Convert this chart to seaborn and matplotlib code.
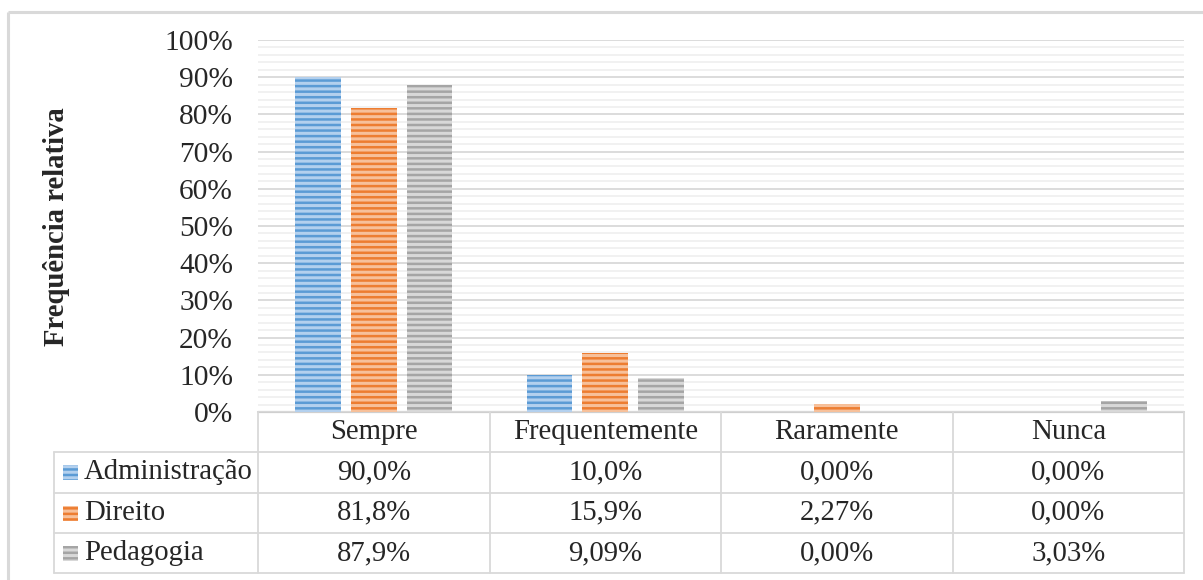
import matplotlib
matplotlib.use("Agg")
import numpy as np
import pandas as pd
import matplotlib.pyplot as plt
import seaborn as sns
from matplotlib.patches import Rectangle

# --- DATA ---
categorias = ["Sempre", "Frequentemente", "Raramente", "Nunca"]
cursos = ["Administração", "Direito", "Pedagogia"]
administracao = [90.0, 10.0, 0.0, 0.0]
direito = [81.8, 15.9, 2.27, 0.0]
pedagogia = [87.9, 9.09, 0.0, 3.03]
y_ticks = list(range(0, 101, 10))

cores = ["#5B9BD5", "#ED7D31", "#A5A5A5"]
cores_claras = ["#B3D0EE", "#F7C09A", "#D8D8D8"]

df = pd.DataFrame({
    "Resposta": categorias * 3,
    "Curso": np.repeat(cursos, len(categorias)),
    "Valor": administracao + direito + pedagogia,
})

# Style
sns.set_theme(style="white")
plt.rcParams["font.family"] = ["Liberation Serif", "DejaVu Serif"]
plt.rcParams["hatch.linewidth"] = 1.8
FS = 20.7


def fmt(v):
    s = f"{v:.1f}" if v >= 10 else f"{v:.2f}"
    return s.replace(".", ",") + "%"


W, H = 1203, 580
fig = plt.figure(figsize=(W / 100, H / 100), dpi=100)

# overlay axes in pixel coords for the data table and frame
tab = fig.add_axes([0, 0, 1, 1])
tab.set_xlim(0, W)
tab.set_ylim(H, 0)
tab.axis("off")
tab.patch.set_visible(False)

# --- BAR CHART ---
left, right, top, bottom = 258, 1184, 40, 412
ax = fig.add_axes([left / W, (H - bottom) / H, (right - left) / W, (bottom - top) / H])
sns.barplot(data=df, x="Resposta", y="Valor", hue="Curso", palette=cores,
            width=0.72, gap=0.18, errorbar=None, legend=False, ax=ax)

for cont, c, cl in zip(ax.containers, cores, cores_claras):
    for bar in cont:
        bar.set_facecolor(cl)
        bar.set_edgecolor(c)
        bar.set_hatch("---")
        bar.set_linewidth(0)

ax.set_ylim(0, 100)
ax.set_xlim(-0.5, len(categorias) - 0.5)
ax.set_yticks(y_ticks)
ax.set_yticks(range(0, 101, 2), minor=True)
ax.set_yticklabels([f"{t}%" for t in y_ticks])
ax.tick_params(axis="y", which="both", length=0, pad=18, labelsize=21.2)
ax.set_xticks([])
ax.set_xlabel("")
ax.set_ylabel("Frequência relativa", fontsize=FS, fontweight="bold")
ax.yaxis.set_label_coords((70 - left) / (right - left), (bottom - 227) / (bottom - top))
ax.grid(which="major", axis="y", color="#D9D9D9", lw=1.3)
ax.grid(which="minor", axis="y", color="#F0F0F0", lw=1.3)
ax.set_axisbelow(True)
for s in ax.spines.values():
    s.set_visible(False)
ax.patch.set_visible(False)

# --- OUTER FRAME ---
tab.plot([8, 8], [12, H], color="#D9D9D9", lw=2.2, solid_capstyle="butt")
tab.plot([8, W], [12, 12], color="#D9D9D9", lw=2.2, solid_capstyle="butt")

# --- DATA TABLE ---
ncol = len(categorias)
col_x = [left + (right - left) / ncol * i for i in range(ncol + 1)]
tab_left = 54
row_y = [412, 452, 492.5, 533, 573]
grid_c = "#D9D9D9"

tab.plot([left, right], [row_y[0], row_y[0]], color="#CFCFCF", lw=1.6)
for y in row_y[1:]:
    tab.plot([tab_left, right], [y, y], color=grid_c, lw=1.3)
for x in col_x:
    tab.plot([x, x], [row_y[0], row_y[-1]], color=grid_c, lw=1.3)
tab.plot([tab_left, tab_left], [row_y[1], row_y[-1]], color=grid_c, lw=1.3)

for i, cat in enumerate(categorias):
    xc = (col_x[i] + col_x[i + 1]) / 2
    tab.text(xc, (row_y[0] + row_y[1]) / 2, cat, ha="center", va="center", fontsize=FS)

series = [administracao, direito, pedagogia]
for r, (nome, vals, c, cl) in enumerate(zip(cursos, series, cores, cores_claras)):
    yc = (row_y[r + 1] + row_y[r + 2]) / 2
    tab.add_patch(Rectangle((63, yc - 7), 15, 15, facecolor=cl, edgecolor=c,
                            hatch="---", lw=0))
    tab.text(84, yc, nome, ha="left", va="center", fontsize=FS)
    for i, v in enumerate(vals):
        xc = (col_x[i] + col_x[i + 1]) / 2
        tab.text(xc, yc, fmt(v), ha="center", va="center", fontsize=FS)

fig.savefig("out.png", dpi=100)
plt.close()
